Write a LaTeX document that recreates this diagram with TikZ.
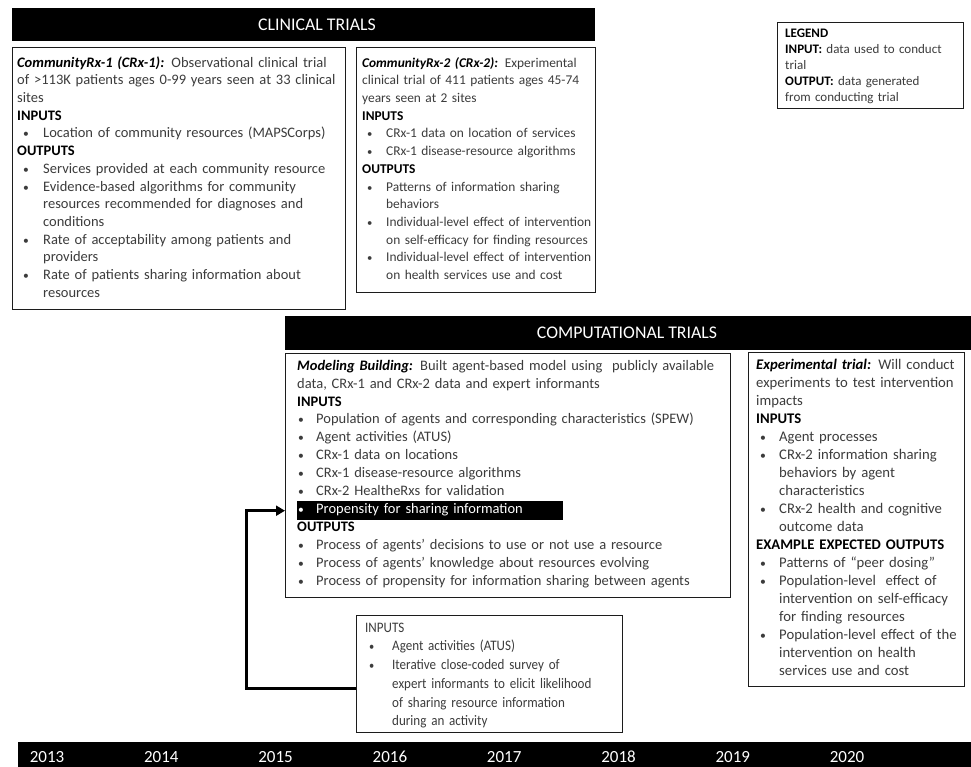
\documentclass[tikz,border=0pt]{standalone}
\usepackage{fontspec}
\setmainfont{Carlito}
\newfontfamily\narrowfont[FakeStretch=0.9]{Carlito}
\usetikzlibrary{arrows.meta,positioning,calc}
\definecolor{ink}{HTML}{3C3C3C}
\definecolor{frame}{HTML}{1C1C1C}

% bullet lists inside the boxes
\newlength{\bulpre}
\newlength{\bulind}
\newcommand{\hd}[1]{\par\noindent{\bfseries\color{black}#1}}
\newcommand{\itm}[1]{\par\noindent\hangindent=\bulind\hangafter=1%
  \makebox[\bulind][l]{\hspace{\bulpre}\scalebox{0.8}{\textbullet}}#1}
\newcommand{\lead}[1]{{\bfseries\itshape\color{black}#1}}

\begin{document}
\begin{tikzpicture}[x=1pt,y=-1pt,
  trialbox/.style={draw=frame,line width=1.2pt,fill=white,inner sep=0pt,anchor=north west},
  bar/.style={fill=black,inner sep=0pt,anchor=north west},
  bartext/.style={text=white,font=\fontsize{17.8}{20}\selectfont},
  body/.style={anchor=north west,inner sep=0pt,align=left,text=ink,text width=#1,
    font=\fontsize{14.5}{17.7}\selectfont},
  yearlbl/.style={text=white,anchor=base,font=\fontsize{17}{20}\selectfont},
  feedback/.style={line width=3pt,-{Triangle[length=9pt,width=10pt]}}]
  \useasboundingbox (0,0) rectangle (971,767);

  % Clinical trials
  \node[bar,minimum width=583pt,minimum height=33pt] (clinbar) at (12,8) {};
  \node[bartext] (clintitle) at (317,25) {CLINICAL TRIALS};
  \node[trialbox,minimum width=333pt,minimum height=262pt] (crxone) at (12,47) {};
  \node[trialbox,minimum width=239pt,minimum height=245pt] (crxtwo) at (356,47) {};

  \node[body=360pt] (crxonetxt) at (17,54.6) {%
    \setlength{\bulpre}{6pt}\setlength{\bulind}{26pt}%
    \noindent\strut\lead{CommunityRx-1 (CRx-1):} Observational clinical trial\\
    of >113K patients ages 0-99 years seen at 33 clinical\\
    sites
    \hd{INPUTS}
    \itm{Location of community resources (MAPSCorps)}
    \hd{OUTPUTS}
    \itm{Services provided at each community resource}
    \itm{Evidence-based algorithms for community\newline resources recommended for diagnoses and\newline conditions}
    \itm{Rate of acceptability among patients and\newline providers}
    \itm{Rate of patients sharing information about\newline resources}\par};

  \node[body=280pt,font=\fontsize{13.4}{17.7}\selectfont] (crxtwotxt) at (362,54.6) {%
    \setlength{\bulpre}{5pt}\setlength{\bulind}{24pt}%
    \noindent\strut\lead{CommunityRx-2 (CRx-2):} Experimental\\
    clinical trial of 411 patients ages 45-74\\
    years seen at 2 sites
    \hd{INPUTS}
    \itm{CRx-1 data on location of services}
    \itm{CRx-1 disease-resource algorithms}
    \hd{OUTPUTS}
    \itm{Patterns of information sharing\newline behaviors}
    \itm{Individual-level effect of intervention\newline on self-efficacy for finding resources}
    \itm{Individual-level effect of intervention\newline on health services use and cost}\par};

  % Legend
  \node[trialbox,minimum width=186pt,minimum height=86pt] (legend) at (777,22) {};
  \node[body=200pt,font=\fontsize{13}{16}\selectfont] (legendtxt) at (785,25.8) {%
    \noindent\strut\textbf{\color{black}LEGEND}\\
    \textbf{\color{black}INPUT:} data used to conduct\\
    trial\\
    \textbf{\color{black}OUTPUT:} data generated\\
    from conducting trial};

  % Computational trials
  \node[bar,minimum width=686pt,minimum height=34pt] (compbar) at (285,316) {};
  \node[bartext] (comptitle) at (627,333) {COMPUTATIONAL TRIALS};
  \node[trialbox,minimum width=445pt,minimum height=244pt] (model) at (285,353) {};
  \node[bar,minimum width=266pt,minimum height=19pt] (prop) at (297,501) {};
  \node[trialbox,minimum width=216pt,minimum height=334pt] (expt) at (748,352) {};

  \node[body=460pt,font=\fontsize{14.5}{17.9}\selectfont] (modeltxt) at (297,357.5) {%
    \setlength{\bulpre}{1pt}\setlength{\bulind}{19pt}%
    \noindent\strut\lead{Modeling Building:} Built agent-based model using\ \ publicly available\\
    data, CRx-1 and CRx-2 data and expert\ informants
    \hd{INPUTS}
    \itm{Population of agents and corresponding characteristics (SPEW)}
    \itm{Agent activities (ATUS)}
    \itm{CRx-1 data on locations}
    \itm{CRx-1 disease-resource\ algorithms}
    \itm{CRx-2 HealtheRxs for validation}
    \par\noindent{\color{white}\makebox[\bulind][l]{\hspace{\bulpre}\scalebox{0.8}{\textbullet}}Propensity for sharing information}
    \hd{OUTPUTS}
    \itm{Process of agents’ decisions to use or not use a resource}
    \itm{Process of agents’ knowledge about resources evolving}
    \itm{Process of propensity for information sharing between agents}\par};

  \node[body=230pt,font=\fontsize{14.7}{18}\selectfont] (expttxt) at (756,356.4) {%
    \setlength{\bulpre}{4pt}\setlength{\bulind}{23pt}%
    \noindent\strut\lead{Experimental trial:} Will conduct\\
    experiments to test intervention\\
    impacts
    \hd{INPUTS}
    \itm{Agent processes}
    \itm{CRx-2 information sharing\newline behaviors by agent\newline characteristics}
    \itm{CRx-2 health and cognitive\newline outcome data}
    \hd{EXAMPLE EXPECTED OUTPUTS}
    \itm{Patterns of “peer dosing”}
    \itm{Population-level\ \ effect of\newline intervention on self-efficacy\newline for finding resources}
    \itm{Population-level effect of the\newline intervention on health\newline services use and cost}\par};

  % Agent activity survey
  \node[trialbox,minimum width=266pt,minimum height=117pt] (atus) at (356,615) {};
  \node[body=290pt,font=\narrowfont\fontsize{14.5}{18.7}\selectfont] (atustxt) at (365,619) {%
    \setlength{\bulpre}{4pt}\setlength{\bulind}{27pt}%
    \noindent\strut INPUTS
    \itm{Agent activities (ATUS)}
    \itm{Iterative close-coded survey of\newline expert informants to elicit likelihood\newline of sharing resource information\newline during an activity}\par};

  \draw[feedback] ([yshift=-14.5pt]atus.west) -- ++(-110,0) |- (prop.west -| model.west);

  % Timeline
  \node[bar,minimum width=953pt,minimum height=25pt] (yearbar) at (18,742) {};
  \foreach \yr [count=\i from 0] in {2013,2014,2015,2016,2017,2018,2019,2020}
    \node[yearlbl] (y\yr) at ({47+114.3*\i},762) {\yr};
\end{tikzpicture}
\end{document}
